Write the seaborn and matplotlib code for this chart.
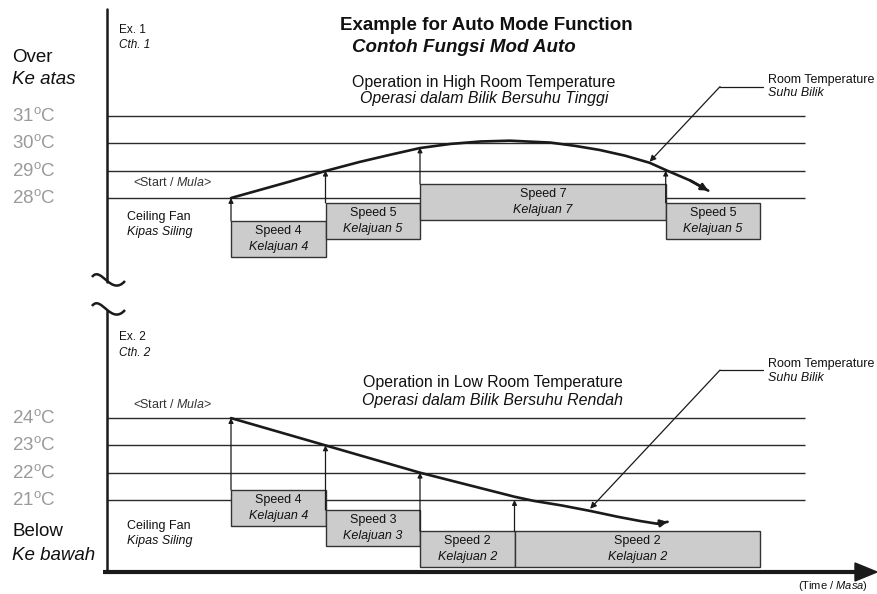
import seaborn as sns
import matplotlib
matplotlib.use('Agg')
from matplotlib import pyplot as plt
from matplotlib.transforms import blended_transform_factory
from matplotlib.path import Path
from matplotlib.patches import PathPatch, Polygon

# ---------------- data ----------------
hi_levels = [31, 30, 29, 28]
lo_levels = [24, 23, 22, 21]

# room temperature curves (time in minutes, temperature in deg C)
hi_time = [0, 3, 6.2, 10, 13.6, 16.8, 20, 23.2, 26.4, 29.5, 33.8, 36.4, 39,
           41.7, 44.3, 46.1, 48.6, 50.5]
hi_temp = [28.0, 28.29, 28.6, 28.99, 29.32, 29.58, 29.83, 29.98, 30.07, 30.1,
           30.03, 29.91, 29.76, 29.55, 29.29, 29.01, 28.64, 28.27]
lo_time = [0, 10, 20, 30, 32, 35, 38, 41, 43.3, 45.1, 46.2]
lo_temp = [24.0, 23.0, 22.0, 21.12, 20.97, 20.8, 20.6, 20.38, 20.23, 20.13, 20.2]

# fan speed segments
hi_start = [0, 10, 20, 46]
hi_end = [10, 20, 46, 56]
hi_speed = [4, 5, 7, 5]
hi_trigger = [28, 29, 29.85, 29]

lo_start = [0, 10, 20, 30]
lo_end = [10, 20, 30, 56]
lo_speed = [4, 3, 2, 2]
lo_trigger = [24, 23, 22, 21]

# ---------------- layout ----------------
W, H = 877, 594
PX_MIN = 9.45      # pixels per minute
T0 = 231           # pixel column of t = 0
PX_DEG = 27.3      # pixels per degree
BOX_H = 36 / PX_DEG
hi_box_top = [27.16, 27.82, 28.51, 27.82]
lo_box_top = [21.37, 20.63, 19.86, 19.86]
LINE_L = (107 - T0) / PX_MIN
LINE_R = (805 - T0) / PX_MIN

sns.set_theme(style='white')
plt.rcParams['font.family'] = ['Liberation Sans', 'DejaVu Sans']
plt.rcParams['mathtext.fontset'] = 'custom'
plt.rcParams['mathtext.rm'] = 'Liberation Sans'
plt.rcParams['mathtext.it'] = 'Liberation Sans:italic'
plt.rcParams['mathtext.bf'] = 'Liberation Sans:bold'

fig = plt.figure(figsize=(W / 100, H / 100), dpi=100)
xlim = (-T0 / PX_MIN, (W - T0) / PX_MIN)

ax_hi = fig.add_axes([0, 1 - 290 / H, 1, 290 / H])
ax_lo = fig.add_axes([0, 0, 1, 304 / H])


def panel(ax, levels, t, temp, starts, ends, speeds, trig, box_top, ylim, leader):
    ax.hlines(levels, LINE_L, LINE_R, color='#2a2a2a', lw=1.0)
    tr = blended_transform_factory(ax.transAxes, ax.transData)
    for lv in levels:
        ax.text(12 / W, lv, f'{lv}' + r'$^{\mathrm{o}}$C', transform=tr,
                fontsize=13.5, color='#9a9a9a', va='center', ha='left')
    for s, e, sp, tg, bt in zip(starts, ends, speeds, trig, box_top):
        ax.bar(s, BOX_H, width=e - s, bottom=bt - BOX_H, align='edge',
               color='#cccccc', edgecolor='#333333', lw=1.0, zorder=2)
        mid = (s + e) / 2
        ax.annotate(f'Speed {sp}', (mid, bt - BOX_H / 2), xytext=(0, 5.5),
                    textcoords='offset points', ha='center', va='center',
                    fontsize=9, color='#111', zorder=3)
        ax.annotate(f'Kelajuan {sp}', (mid, bt - BOX_H / 2), xytext=(0, -6),
                    textcoords='offset points', ha='center', va='center',
                    fontsize=9, style='italic', color='#111', zorder=3)
        ax.annotate('', xy=(s, tg), xytext=(s, bt),
                    arrowprops=dict(arrowstyle='-|>', color='k', lw=0.9,
                                    mutation_scale=7, shrinkA=0, shrinkB=0),
                    zorder=3)
    sns.lineplot(x=t, y=temp, ax=ax, color='k', lw=1.9, sort=False,
                 estimator=None, zorder=4)
    ax.annotate('', xy=(t[-1], temp[-1]), xytext=(t[-2], temp[-2]),
                arrowprops=dict(arrowstyle='-|>', color='k', lw=1.9,
                                mutation_scale=10, shrinkA=0, shrinkB=0),
                zorder=4)
    (tip, elbow, end) = leader
    ax.plot([elbow[0], end], [elbow[1], elbow[1]], color='k', lw=0.9)
    ax.annotate('', xy=tip, xytext=elbow,
                arrowprops=dict(arrowstyle='-|>', color='k', lw=0.9,
                                mutation_scale=9, shrinkA=0, shrinkB=0))
    ax.set_xlim(*xlim)
    ax.set_ylim(*ylim)
    ax.axis('off')


panel(ax_hi, hi_levels, hi_time, hi_temp, hi_start, hi_end, hi_speed,
      hi_trigger, hi_box_top,
      (28 - (290 - 198) / PX_DEG, 28 + 198 / PX_DEG),
      ((44.3, 29.33), (51.75, 32.08), 56.3))
panel(ax_lo, lo_levels, lo_time, lo_temp, lo_start, lo_end, lo_speed,
      lo_trigger, lo_box_top,
      (21 - (H - 500) / PX_DEG, 21 + (500 - 290) / PX_DEG),
      ((38, 20.68), (51.75, 25.76), 56.3))

# ---------------- frame (pixel space) ----------------
fr = fig.add_axes([0, 0, 1, 1])
fr.set_xlim(0, W)
fr.set_ylim(H, 0)
fr.axis('off')
fr.plot([107, 107], [9, 282], color='k', lw=1.8)
fr.plot([107, 107], [311, 572], color='k', lw=1.8)
fr.plot([103, 858], [572, 572], color='k', lw=3, solid_capstyle='butt')
fr.add_patch(Polygon([(855, 563), (877, 572), (855, 581)], closed=True, color='k'))
for dy in (0, 29):
    verts = [(92, 277 + dy), (101, 265 + dy), (111, 297 + dy), (125, 281 + dy)]
    codes = [Path.MOVETO, Path.CURVE4, Path.CURVE4, Path.CURVE4]
    fr.add_patch(PathPatch(Path(verts, codes), fill=False, lw=1.8, color='k'))


def put(x, y, s, **kw):
    kw.setdefault('color', '#111111')
    fig.text(x / W, 1 - y / H, s, va='center', **kw)


put(340, 26, 'Example for Auto Mode Function', fontsize=13.5, weight='bold')
put(352, 48, 'Contoh Fungsi Mod Auto', fontsize=13.5, weight='bold', style='italic')
put(352, 82, 'Operation in High Room Temperature', fontsize=11.4)
put(360, 99, 'Operasi dalam Bilik Bersuhu Tinggi', fontsize=11.4, style='italic')
put(363, 382, 'Operation in Low Room Temperature', fontsize=11.4)
put(362, 400, 'Operasi dalam Bilik Bersuhu Rendah', fontsize=11.4, style='italic')

put(12, 58, 'Over', fontsize=13.5)
put(12, 80, 'Ke atas', fontsize=13.5, style='italic')
put(12, 532, 'Below', fontsize=13.5)
put(12, 555, 'Ke bawah', fontsize=13.5, style='italic')

put(119, 30, 'Ex. 1', fontsize=8.5)
put(119, 45, 'Cth. 1', fontsize=8.5, style='italic')
put(119, 337, 'Ex. 2', fontsize=8.5)
put(119, 353, 'Cth. 2', fontsize=8.5, style='italic')

put(133, 183, r'<Start / $\mathit{Mula}$>', fontsize=9, color='#333333')
put(133, 405, r'<Start / $\mathit{Mula}$>', fontsize=9, color='#333333')

put(127, 217, 'Ceiling Fan', fontsize=9)
put(127, 232, 'Kipas Siling', fontsize=9, style='italic')
put(127, 526, 'Ceiling Fan', fontsize=9)
put(127, 541, 'Kipas Siling', fontsize=9, style='italic')

put(768, 80, 'Room Temperature', fontsize=9)
put(768, 93, 'Suhu Bilik', fontsize=9, style='italic')
put(768, 364, 'Room Temperature', fontsize=9)
put(768, 378, 'Suhu Bilik', fontsize=9, style='italic')

put(868, 586, r'(Time / $\mathit{Masa}$)', fontsize=8, ha='right')

fig.savefig('out.png', dpi=100)
